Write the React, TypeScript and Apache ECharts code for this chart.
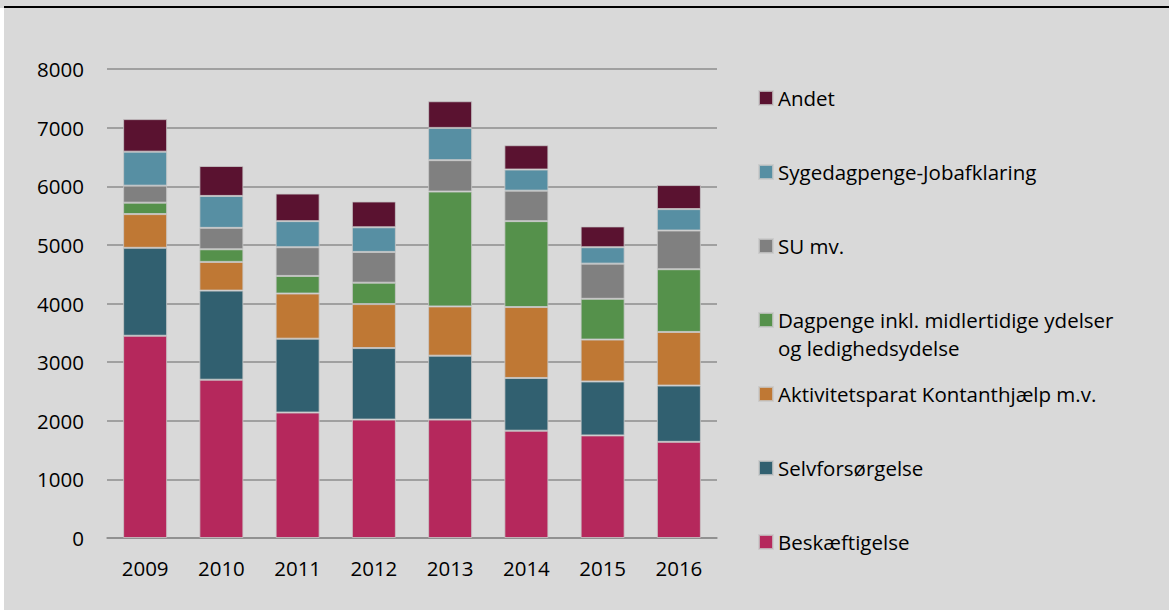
import React, { useEffect, useRef } from "react";
import * as echarts from "echarts";

const categories = ["2009", "2010", "2011", "2012", "2013", "2014", "2015", "2016"];
const seriesNames = [
  "Beskæftigelse",
  "Selvforsørgelse",
  "Aktivitetsparat Kontanthjælp m.v.",
  "Dagpenge inkl. midlertidige ydelser og ledighedsydelse",
  "SU mv.",
  "Sygedagpenge-Jobafklaring",
  "Andet",
];
const beskaeftigelse = [3450, 2700, 2140, 2020, 2020, 1830, 1750, 1640];
const selvforsorgelse = [1500, 1520, 1260, 1220, 1090, 900, 920, 960];
const aktivitetsparat = [575, 490, 770, 750, 840, 1210, 715, 915];
const dagpenge = [195, 215, 300, 365, 1960, 1465, 695, 1070];
const su = [290, 365, 490, 525, 535, 520, 600, 660];
const sygedagpenge = [580, 545, 445, 420, 550, 360, 280, 365];
const andet = [555, 510, 470, 440, 455, 415, 355, 410];
const seriesValues = [beskaeftigelse, selvforsorgelse, aktivitetsparat, dagpenge, su, sygedagpenge, andet];
const colors = ["#B5285C", "#316070", "#BF7834", "#55914B", "#808080", "#578FA3", "#5A1230"];

const FONT = "Open Sans";
const FS = 20.5;

export default function App() {
  const ref = useRef<HTMLDivElement>(null);
  useEffect(() => {
    document.body.style.margin = "0";
    const chart = echarts.init(ref.current!, undefined, { renderer: "svg" });
    chart.setOption({
      animation: false,
      backgroundColor: "#D9D9D9",
      textStyle: { fontFamily: FONT },
      graphic: [
        { type: "rect", left: 0, top: 8, shape: { width: 4, height: 602 }, style: { fill: "#ffffff" } },
        { type: "rect", left: 4, top: 6, shape: { width: 1165, height: 2 }, style: { fill: "#000000" } },
        {
          type: "text",
          left: 778,
          top: 337,
          style: { text: "og ledighedsydelse", fontFamily: FONT, fontSize: FS, lineHeight: 22, fill: "#000" },
        },
      ],
      grid: { left: 107, right: 452, top: 69, bottom: 72, containLabel: false },
      legend: {
        orient: "vertical",
        left: 758,
        top: 87,
        padding: 0,
        itemWidth: 14,
        itemHeight: 14,
        itemGap: 52,
        icon: "rect",
        selectedMode: false,
        data: [...seriesNames].reverse(),
        formatter: (name: string) =>
          name.startsWith("Dagpenge") ? "Dagpenge inkl. midlertidige ydelser" : name,
        textStyle: { fontFamily: FONT, fontSize: FS, color: "#000", lineHeight: 22 },
      },
      xAxis: {
        type: "category",
        data: categories,
        axisLine: { show: true, lineStyle: { color: "#8C8C8C", width: 1.5 } },
        axisTick: { show: false },
        axisLabel: { color: "#000", fontSize: FS, fontFamily: FONT, margin: 19 },
      },
      yAxis: {
        type: "value",
        min: 0,
        max: 8000,
        interval: 1000,
        axisLine: { show: false },
        axisTick: { show: false },
        splitLine: { lineStyle: { color: "#8C8C8C", width: 1.5 } },
        axisLabel: {
          color: "#000",
          fontSize: FS,
          fontFamily: FONT,
          margin: 23,
          formatter: (v: number) => String(v),
        },
      },
      series: seriesNames.map((name, i) => ({
        name,
        type: "bar",
        stack: "total",
        barWidth: 44,
        data: seriesValues[i],
        itemStyle: { color: colors[i], borderColor: "rgba(200,200,200,0.8)", borderWidth: 1 },
      })),
    });
    return () => chart.dispose();
  }, []);
  return <div ref={ref} style={{ width: 1169, height: 610 }} />;
}
